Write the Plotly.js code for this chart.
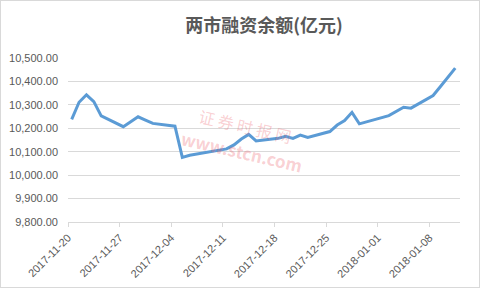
<!DOCTYPE html>
<html>
<head>
<meta charset="utf-8">
<script src="https://cdn.plot.ly/plotly-3.0.1.min.js"></script>
<style>
html,body{margin:0;padding:0;background:#fff;}
#chart{width:478px;height:286px;border:1px solid #d9d9d9;}
</style>
</head>
<body>
<div id="chart"></div>
<script>
// Trading days (plotted at mid-day of each date slot)
const dates = [
  "2017-11-20","2017-11-21","2017-11-22","2017-11-23","2017-11-24",
  "2017-11-27","2017-11-28","2017-11-29","2017-11-30","2017-12-01",
  "2017-12-04","2017-12-05","2017-12-06","2017-12-07","2017-12-08",
  "2017-12-11","2017-12-12","2017-12-13","2017-12-14","2017-12-15",
  "2017-12-18","2017-12-19","2017-12-20","2017-12-21","2017-12-22",
  "2017-12-25","2017-12-26","2017-12-27","2017-12-28","2017-12-29",
  "2018-01-02","2018-01-03","2018-01-04","2018-01-05",
  "2018-01-08","2018-01-09","2018-01-10","2018-01-11"
];
// 两市融资余额 (亿元)
const balance = [
  10238,10311,10343,10314,10253,
  10207,10228,10249,10235,10221,
  10209,10076,10085,10090,10097,
  10112,10129,10154,10174,10146,
  10157,10166,10157,10171,10161,
  10186,10214,10233,10268,10219,
  10254,10271,10290,10286,
  10340,10378,10416,10457
];
const tickDates = ["2017-11-20","2017-11-27","2017-12-04","2017-12-11","2017-12-18","2017-12-25","2018-01-01","2018-01-08"];
const tickLabels = ["2017-11-20","2017-11-27","2017-12-04","2017-12-11","2017-12-18","2017-12-25","2018-01-01","2018-01-08"];
const chartTitle = "两市融资余额(亿元)";
const wmCN = "证 券 时 报 网";
const wmURL = "www.stcn.com";

const xs = dates.map(d => d + " 12:00");
const grey = "#595959";
const wmColor = "rgba(236,96,108,0.30)";

const trace = {
  x: xs, y: balance, type: "scatter", mode: "lines",
  line: {color: "#5b9bd5", width: 3},
  hoverinfo: "skip"
};

function wm(text, x, y, size, bold) {
  return {
    text: bold ? "<b>" + text + "</b>" : text,
    xref: "paper", yref: "paper", x: x, y: y,
    xanchor: "center", yanchor: "middle",
    showarrow: false, textangle: 13,
    font: {family: "Noto Sans CJK SC, DejaVu Sans, sans-serif", size: size, color: wmColor}
  };
}

const layout = {
  width: 478, height: 286,
  margin: {l: 67, r: 19, t: 57, b: 65, pad: 0},
  paper_bgcolor: "#ffffff", plot_bgcolor: "#ffffff",
  showlegend: false,
  font: {family: "Liberation Sans, Arial, sans-serif", size: 11, color: grey},
  title: {
    text: "<b>" + chartTitle + "</b>",
    font: {family: "Noto Sans CJK SC, sans-serif", size: 18, color: grey},
    x: 0.5, xanchor: "center", xref: "paper",
    y: 0.912, yanchor: "middle", yref: "container"
  },
  xaxis: {
    type: "date",
    range: ["2017-11-20 00:00", "2018-01-12 03:30"],
    tickmode: "array", tickvals: tickDates, ticktext: tickLabels,
    tickangle: -45,
    ticks: "outside", ticklen: 4, tickcolor: "#d9d9d9", tickwidth: 1,
    showline: true, linecolor: "#d9d9d9", linewidth: 1,
    showgrid: false, zeroline: false,
    tickfont: {size: 11, color: grey}
  },
  yaxis: {
    range: [9800, 10500], dtick: 100, tick0: 9800,
    tickformat: ",.2f",
    showgrid: true, gridcolor: "#d9d9d9", gridwidth: 1,
    zeroline: false, showline: false, ticks: "",
    ticklabelstandoff: 9,
    tickfont: {size: 11, color: grey}
  },
  annotations: [
    wm(wmCN, 0.452, 0.585, 16, false),
    wm(wmURL, 0.445, 0.43, 17, true)
  ]
};

Plotly.newPlot("chart", [trace], layout, {displayModeBar: false, staticPlot: true});
</script>
</body>
</html>
